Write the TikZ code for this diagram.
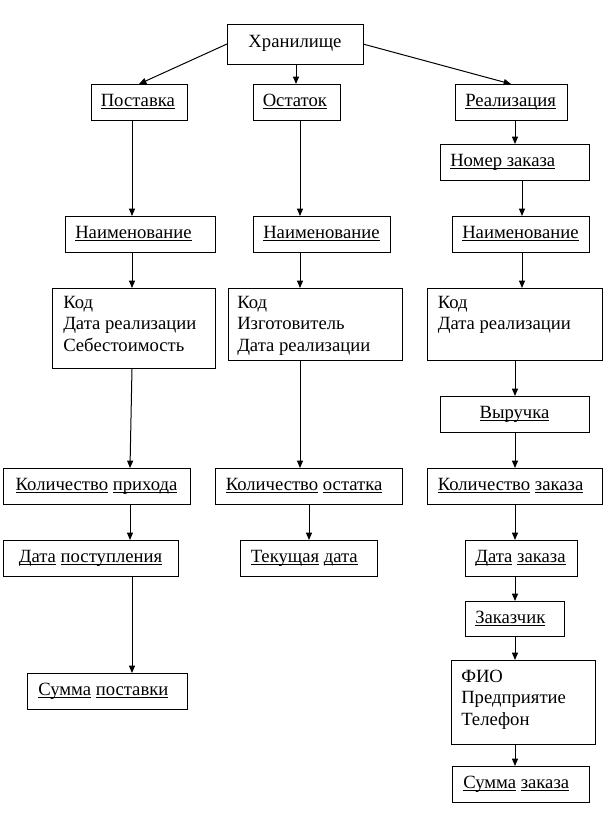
\documentclass[tikz,border=0pt]{standalone}
\usepackage{fontspec}
\setmainfont{Liberation Serif}
\usetikzlibrary{arrows.meta,calc}
\newcommand\ul[1]{\underline{\smash{#1}}}
\newcommand\bx[5]{\node[box,minimum width={(#4-#2)*0.75pt},minimum height={(#5-#3)*0.75pt}] (#1) at (#2,#3) {};}
\begin{document}
\begin{tikzpicture}[x=0.75pt,y=-0.75pt,
  box/.style={draw,line width=0.75pt,inner sep=0pt,outer sep=0pt,anchor=north west},
  txt/.style={inner sep=0pt,font=\fontsize{14pt}{16.1pt}\selectfont,align=left},
  arr/.style={line width=0.75pt,-{Triangle[length=5.5pt,width=4.5pt]}}]
\useasboundingbox[fill=white] (0,0) rectangle (614,840);
% boxes
\bx{hran}{227}{24}{363}{64}
\bx{post}{91}{84}{187}{120}
\bx{ost}{253}{84}{340}{120}
\bx{real}{455}{84}{567}{120}
\bx{nomer}{440}{144}{589}{180}
\bx{naimL}{65}{216}{215}{252}
\bx{naimM}{253}{216}{390}{252}
\bx{naimR}{452}{216}{589}{252}
\bx{kodL}{52}{288}{215}{368}
\bx{kodM}{228}{288}{402}{360}
\bx{kodR}{427}{288}{602}{360}
\bx{vyr}{440}{396}{589}{432}
\bx{kolP}{3}{468}{190}{504}
\bx{kolO}{215}{468}{402}{504}
\bx{kolZ}{427}{468}{602}{504}
\bx{dataP}{3}{540}{178}{576}
\bx{tek}{240}{540}{377}{576}
\bx{dataZ}{465}{540}{577}{576}
\bx{zak}{465}{601}{564}{636}
\bx{fio}{451}{660}{595}{744}
\bx{summP}{27}{673}{187}{709}
\bx{summZ}{452}{766}{589}{802}
% texts
\node[txt,anchor=base] (hranT) at ($(hran.north)+(0,23.5)$) {Хранилище};
\node[txt,anchor=base west] (postT) at ($(post.north west)+(9.5,22.5)$) {\ul{Поставка}};
\node[txt,anchor=base west] (ostT) at ($(ost.north west)+(9.5,22.5)$) {\ul{Остаток}};
\node[txt,anchor=base west] (realT) at ($(real.north west)+(10,22.5)$) {\ul{Реализация}};
\node[txt,anchor=base west] (nomerT) at ($(nomer.north west)+(10,22.5)$) {\ul{Номер заказа}};
\node[txt,anchor=base west] (naimLT) at ($(naimL.north west)+(10,22.5)$) {\ul{Наименование}};
\node[txt,anchor=base west] (naimMT) at ($(naimM.north west)+(10,22.5)$) {\ul{Наименование}};
\node[txt,anchor=base west] (naimRT) at ($(naimR.north west)+(10,22.5)$) {\ul{Наименование}};
\node[txt,anchor=base west] (kodLT) at ($(kodL.north west)+(11,63)$) {Код\\Дата реализации\\Себестоимость};
\node[txt,anchor=base west] (kodMT) at ($(kodM.north west)+(9,63)$) {Код\\Изготовитель\\Дата реализации};
\node[txt,anchor=base west] (kodRT) at ($(kodR.north west)+(10.5,41.5)$) {Код\\Дата реализации};
\node[txt,anchor=base] (vyrT) at ($(vyr.north)+(0,22.5)$) {\ul{Выручка}};
\node[txt,anchor=base] (kolPT) at ($(kolP.north)+(0,22.5)$) {\ul{Количество} \ul{прихода}};
\node[txt,anchor=base west] (kolOT) at ($(kolO.north west)+(10.5,22.5)$) {\ul{Количество} \ul{остатка}};
\node[txt,anchor=base west] (kolZT) at ($(kolZ.north west)+(10.5,22.5)$) {\ul{Количество} \ul{заказа}};
\node[txt,anchor=base] (dataPT) at ($(dataP.north)+(0,22.5)$) {\ul{Дата} \ul{поступления}};
\node[txt,anchor=base west] (tekT) at ($(tek.north west)+(10.5,22.5)$) {\ul{Текущая} \ul{дата}};
\node[txt,anchor=base west] (dataZT) at ($(dataZ.north west)+(10,22.5)$) {\ul{Дата} \ul{заказа}};
\node[txt,anchor=base west] (zakT) at ($(zak.north west)+(10,22.5)$) {\ul{Заказчик}};
\node[txt,anchor=base west] (fioT) at ($(fio.north west)+(10,65)$) {ФИО\\Предприятие\\Телефон};
\node[txt,anchor=base west] (summPT) at ($(summP.north west)+(11,22.5)$) {\ul{Сумма} \ul{поставки}};
\node[txt,anchor=base west] (summZT) at ($(summZ.north west)+(11,22.5)$) {\ul{Сумма} \ul{заказа}};
% column coordinates
\coordinate (cL) at (132,0);
\coordinate (cL2) at (130,0);
\coordinate (cM) at (300,0);
\coordinate (cM2) at (309,0);
\coordinate (cR) at (515,0);
\coordinate (cR2) at (522,0);
\coordinate (cH) at (296,0);
% arrows
\draw[arr] (hran.west) -- (post.north);
\draw[arr] (hran.south -| cH) -- (ost.north -| cH);
\draw[arr] (hran.east) -- (real.north);
\draw[arr] (post.south -| cL) -- (naimL.north -| cL);
\draw[arr] (ost.south -| cM) -- (naimM.north -| cM);
\draw[arr] (real.south -| cR) -- (nomer.north -| cR);
\draw[arr] (nomer.south -| cR2) -- (naimR.north -| cR2);
\draw[arr] (naimL.south -| cL) -- (kodL.north -| cL);
\draw[arr] (naimM.south -| cM) -- (kodM.north -| cM);
\draw[arr] (naimR.south -| cR2) -- (kodR.north -| cR2);
\draw[arr] (kodL.south -| cL) -- (kolP.north -| cL2);
\draw[arr] (kodM.south -| cM) -- (kolO.north -| cM);
\draw[arr] (kodR.south -| cR) -- (vyr.north -| cR);
\draw[arr] (vyr.south -| cR) -- (kolZ.north -| cR);
\draw[arr] (kolP.south -| cL2) -- (dataP.north -| cL2);
\draw[arr] (kolO.south -| cM2) -- (tek.north -| cM2);
\draw[arr] (kolZ.south -| cR) -- (dataZ.north -| cR);
\draw[arr] (dataP.south -| cL) -- (summP.north -| cL);
\draw[arr] (dataZ.south -| cR) -- (zak.north -| cR);
\draw[arr] (zak.south -| cR) -- (fio.north -| cR);
\draw[arr] (fio.south -| cR) -- (summZ.north -| cR);
\end{tikzpicture}
\end{document}
